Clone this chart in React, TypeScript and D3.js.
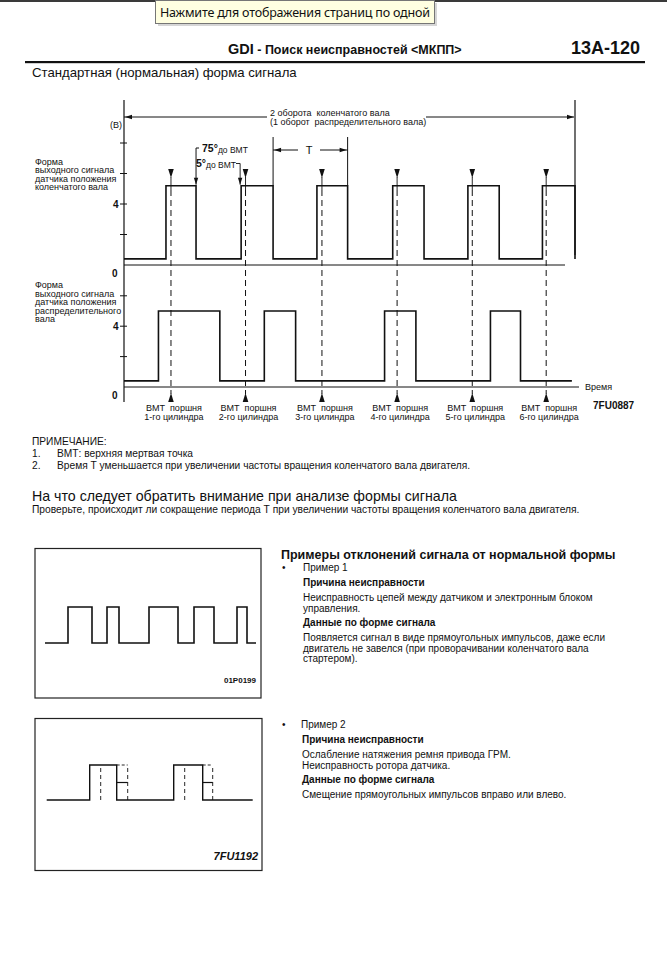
import React from "react";
import * as d3 from "d3";

// crank angle (deg) where the crank sensor signal toggles, starting low
const crankEdges = [67, 115, 187, 238, 308, 357, 429, 479, 549, 599, 668, 720];
// cam sensor signal toggles, starting low
const camEdges = [55, 153, 224, 274, 416, 466, 585, 633];
const camEnd = 715;
// TDC of each cylinder (deg)
const tdcAngles = [75, 194, 316, 436, 556, 674];
const cylinderLabels = ["1-го цилиндра", "2-го цилиндра", "3-го цилиндра", "4-го цилиндра", "5-го цилиндра", "6-го цилиндра"];
const crankLevels = [0.4, 5.2];
const camLevels = [0.4, 5.0];
const topTicks = [2, 4, 6, 8];
const bottomTicks = [2, 4, 6];

// example waveforms (time units)
const ex1Edges = [23, 47, 62, 74, 104, 133, 149, 169, 192, 202];
const ex1End = 211;
const ex2Edges = [43, 70, 127, 156];
const ex2Shifted = [54, 81, 138, 166];
const ex2End = 206;

const FONT = "'Liberation Sans', Arial, sans-serif";

const steps = (edges: number[], levels: number[], end: number) => {
  const pts: [number, number][] = [[0, levels[0]]];
  let s = 0;
  edges.forEach((e) => {
    s = 1 - s;
    pts.push([e, levels[s]]);
  });
  if (edges[edges.length - 1] < end) pts.push([end, levels[s]]);
  return pts;
};

const App = () => {
  // main diagram scales
  const x = d3.scaleLinear().domain([0, 720]).range([124, 575]);
  const yTop = d3.scaleLinear().domain([0, 4]).range([265, 204]);
  const yBot = d3.scaleLinear().domain([0, 4]).range([387, 326.2]);

  const lineTop = d3.line<[number, number]>().x((d) => x(d[0])).y((d) => yTop(d[1])).curve(d3.curveStepAfter);
  const lineBot = d3.line<[number, number]>().x((d) => x(d[0])).y((d) => yBot(d[1])).curve(d3.curveStepAfter);

  // example 1
  const x1 = d3.scaleLinear().domain([0, ex1End]).range([45, 256]);
  const y1 = d3.scaleLinear().domain([0, 1]).range([643, 607]);
  const line1 = d3.line<[number, number]>().x((d) => x1(d[0])).y((d) => y1(d[1])).curve(d3.curveStepAfter);

  // example 2
  const x2 = d3.scaleLinear().domain([0, ex2End]).range([46.7, 252.7]);
  const y2 = d3.scaleLinear().domain([0, 1]).range([800, 765]);
  const line2 = d3.line<[number, number]>().x((d) => x2(d[0])).y((d) => y2(d[1])).curve(d3.curveStepAfter);

  const arrowL = (ax: number, ay: number) => `M${ax},${ay}L${ax + 7},${ay - 2.2}L${ax + 7},${ay + 2.2}Z`;
  const arrowR = (ax: number, ay: number) => `M${ax},${ay}L${ax - 7},${ay - 2.2}L${ax - 7},${ay + 2.2}Z`;
  const arrowD = (ax: number, ay: number) => `M${ax},${ay}L${ax - 2.2},${ay - 7}L${ax + 2.2},${ay - 7}Z`;

  const txt = { fontFamily: FONT, fill: "#111" } as const;
  const pre = { whiteSpace: "pre" } as const;

  return (
    <svg width={667} height={955} style={{ position: "absolute", left: 0, top: 0, background: "#fff" }}>
      {/* top strip and tooltip */}
      <rect x={0} y={0} width={667} height={2} fill="#3a3a3a" />
      <rect x={158} y={3} width={279} height={23} fill="#bbb" opacity={0.6} />
      <rect x={155.5} y={0.5} width={279} height={23} fill="#ffffe1" stroke="#767676" />
      <text x={160} y={17} fontFamily="'Noto Sans', 'Open Sans', sans-serif" fontSize={12.5} fill="#111" textLength={270}>
        Нажмите для отображения страниц по одной
      </text>

      {/* page header */}
      <text x={228} y={54} {...txt} fontWeight="bold" fontSize={12.5}>
        <tspan fontSize={14.5}>GDI</tspan> - Поиск неисправностей &lt;МКПП&gt;
      </text>
      <text x={640} y={54} {...txt} fontWeight="bold" fontSize={18} textAnchor="end">13A-120</text>
      <rect x={25} y={61} width={620} height={2.2} fill="#111" />
      <text x={32} y={77} {...txt} fontSize={13.2}>Стандартная (нормальная) форма сигнала</text>

      {/* main diagram */}
      <g fontFamily={FONT} fill="#111">
        {/* y axis */}
        <line x1={124} x2={124} y1={100} y2={402} stroke="#111" strokeWidth={1.2} />
        {topTicks.map((t) => (
          <line key={"tt" + t} x1={120} x2={127} y1={yTop(t)} y2={yTop(t)} stroke="#111" />
        ))}
        {bottomTicks.map((t) => (
          <line key={"bt" + t} x1={120} x2={127} y1={yBot(t)} y2={yBot(t)} stroke="#111" />
        ))}
        <text x={110} y={128} fontSize={9}>(B)</text>
        <text x={113} y={yTop(4) + 3.5} fontSize={10} fontWeight="bold">4</text>
        <text x={112} y={yTop(0) + 12} fontSize={10} fontWeight="bold">0</text>
        <text x={113} y={yBot(4) + 3.5} fontSize={10} fontWeight="bold">4</text>
        <text x={112} y={yBot(0) + 12} fontSize={10} fontWeight="bold">0</text>

        {/* zero lines */}
        <line x1={124} x2={565} y1={yTop(0)} y2={yTop(0)} stroke="#111" strokeWidth={1} />
        <line x1={124} x2={579} y1={yBot(0)} y2={yBot(0)} stroke="#111" strokeWidth={1} />
        <text x={585} y={yBot(0) + 3} fontSize={9}>Время</text>

        {/* left captions */}
        <text x={35} y={165} fontSize={9}>
          {["Форма", "выходного сигнала", "датчика положения", "коленчатого вала"].map((s, i) => (
            <tspan key={s} x={35} dy={i === 0 ? 0 : 8.3}>{s}</tspan>
          ))}
        </text>
        <text x={35} y={288} fontSize={9}>
          {["Форма", "выходного сигнала", "датчика положения", "распределительного", "вала"].map((s, i) => (
            <tspan key={s} x={35} dy={i === 0 ? 0 : 8.5}>{s}</tspan>
          ))}
        </text>

        {/* 2 revolution span */}
        <line x1={575} x2={575} y1={100} y2={255} stroke="#111" strokeWidth={1.2} />
        <line x1={124} x2={267} y1={117} y2={117} stroke="#111" />
        <line x1={426} x2={574} y1={117} y2={117} stroke="#111" />
        <path d={arrowL(125, 117)} />
        <path d={arrowR(574, 117)} />
        <text x={270} y={116} fontSize={9} style={pre}>2 оборота  коленчатого вала</text>
        <text x={270} y={125} fontSize={9} style={pre}>(1 оборот  распределительного вала)</text>

        {/* T span */}
        <line x1={x(238)} x2={x(238)} y1={137} y2={yTop(crankLevels[1])} stroke="#111" />
        <line x1={x(357)} x2={x(357)} y1={137} y2={yTop(crankLevels[1])} stroke="#111" />
        <line x1={x(238)} x2={298} y1={150} y2={150} stroke="#111" />
        <line x1={320} x2={x(357)} y1={150} y2={150} stroke="#111" />
        <path d={arrowL(x(238) + 1, 150)} />
        <path d={arrowR(x(357) - 1, 150)} />
        <text x={309} y={154} fontSize={11} textAnchor="middle">T</text>

        {/* 75° and 5° BTDC marks */}
        <line x1={x(115)} x2={x(115)} y1={148} y2={yTop(crankLevels[1]) - 1} stroke="#111" />
        <line x1={x(115)} x2={x(115) + 3} y1={148} y2={148} stroke="#111" />
        <path d={arrowD(x(115), yTop(crankLevels[1]) - 1)} />
        <text x={202} y={152} fontSize={10.5} fontWeight="bold">75°<tspan fontSize={8.5} fontWeight="normal" dy={1}>до ВМТ</tspan></text>
        <text x={196} y={167} fontSize={10.5} fontWeight="bold">5°<tspan fontSize={8.5} fontWeight="normal" dy={0.5}>до ВМТ</tspan></text>
        <path d={`M236,163.5L${x(187) - 1},163.5L${x(187) - 1},${yTop(crankLevels[1]) - 1}`} fill="none" stroke="#111" strokeWidth={0.9} />
        <path d={arrowD(x(187) - 1, yTop(crankLevels[1]) - 1)} />

        {/* TDC markers */}
        {tdcAngles.map((a, i) => (
          <g key={"tdc" + i}>
            <path d={`M${x(a) - 2.8},169L${x(a) + 2.8},169L${x(a)},178Z`} />
            <line x1={x(a)} x2={x(a)} y1={177} y2={190} stroke="#111" strokeWidth={0.9} />
            <line x1={x(a)} x2={x(a)} y1={190} y2={394} stroke="#111" strokeWidth={1} strokeDasharray="6,4" />
            <path d={`M${x(a)},393L${x(a) - 2.8},402L${x(a) + 2.8},402Z`} />
            <text x={x(a) + 3} y={411} fontSize={9} textAnchor="middle" style={pre}>ВМТ  поршня</text>
            <text x={x(a) + 3} y={420} fontSize={9} textAnchor="middle">{cylinderLabels[i]}</text>
          </g>
        ))}

        {/* signals */}
        <path d={lineTop(steps(crankEdges, crankLevels, 720)) || ""} fill="none" stroke="#111" strokeWidth={1.6} />
        <path d={lineBot(steps(camEdges, camLevels, camEnd)) || ""} fill="none" stroke="#111" strokeWidth={1.6} />

        <text x={593} y={409} fontSize={10} fontWeight="bold">7FU0887</text>
      </g>

      {/* notes */}
      <g {...txt} fontSize={10.2}>
        <text x={32} y={445}>ПРИМЕЧАНИЕ:</text>
        <text x={32} y={457}>1.</text>
        <text x={57} y={457}>ВМТ: верхняя мертвая точка</text>
        <text x={32} y={469}>2.</text>
        <text x={57} y={469}>Время Т уменьшается при увеличении частоты вращения коленчатого вала двигателя.</text>
        <text x={32} y={501} fontSize={14.2}>На что следует обратить внимание при анализе формы сигнала</text>
        <text x={32} y={513} fontSize={10.25}>Проверьте, происходит ли сокращение периода Т при увеличении частоты вращения коленчатого вала двигателя.</text>
      </g>

      {/* example 1 */}
      <rect x={35} y={548.5} width={226} height={149.5} fill="none" stroke="#222" strokeWidth={1.2} />
      <path d={line1(steps(ex1Edges, [0, 1], ex1End)) || ""} fill="none" stroke="#111" strokeWidth={1.6} />
      <text x={256} y={683} {...txt} fontSize={8} fontWeight="bold" textAnchor="end">01P0199</text>

      {/* example 2 */}
      <rect x={35} y={718.5} width={227} height={152} fill="none" stroke="#222" strokeWidth={1.2} />
      <path d={line2(steps(ex2Edges, [0, 1], ex2End)) || ""} fill="none" stroke="#111" strokeWidth={1.4} />
      {[0, 2].map((k) => (
        <g key={"sh" + k} stroke="#111" fill="none">
          <line x1={x2(ex2Shifted[k])} x2={x2(ex2Shifted[k])} y1={y2(0)} y2={y2(1)} strokeDasharray="4,3" strokeWidth={0.9} />
          <line x1={x2(ex2Shifted[k + 1])} x2={x2(ex2Shifted[k + 1])} y1={y2(0)} y2={y2(1)} strokeDasharray="4,3" strokeWidth={0.9} />
          <line x1={x2(ex2Edges[k + 1])} x2={x2(ex2Shifted[k + 1])} y1={y2(1)} y2={y2(1)} strokeDasharray="3,2" strokeWidth={0.9} />
          <line x1={x2(ex2Edges[k + 1])} x2={x2(ex2Shifted[k + 1])} y1={y2(0.5)} y2={y2(0.5)} strokeWidth={1.2} />
        </g>
      ))}
      <text x={258} y={860} {...txt} fontSize={11} fontWeight="bold" fontStyle="italic" textAnchor="end">7FU1192</text>

      {/* example texts */}
      <g {...txt} fontSize={10}>
        <text x={281} y={559} fontSize={12.5} fontWeight="bold">Примеры отклонений сигнала от нормальной формы</text>
        <text x={282} y={571}>•</text>
        <text x={303} y={571}>Пример 1</text>
        <text x={303} y={586} fontWeight="bold">Причина неисправности</text>
        <text x={303} y={601}>Неисправность цепей между датчиком и электронным блоком</text>
        <text x={303} y={612}>управления.</text>
        <text x={303} y={626} fontWeight="bold">Данные по форме сигнала</text>
        <text x={303} y={641}>Появляется сигнал в виде прямоугольных импульсов, даже если</text>
        <text x={303} y={651.5}>двигатель не завелся (при проворачивании коленчатого вала</text>
        <text x={303} y={662}>стартером).</text>

        <text x={282} y={728}>•</text>
        <text x={301} y={728}>Пример 2</text>
        <text x={302} y={743} fontWeight="bold">Причина неисправности</text>
        <text x={302} y={758}>Ослабление натяжения ремня привода ГРМ.</text>
        <text x={302} y={768.5}>Неисправность ротора датчика.</text>
        <text x={302} y={783} fontWeight="bold">Данные по форме сигнала</text>
        <text x={302} y={797.5}>Смещение прямоугольных импульсов вправо или влево.</text>
      </g>
    </svg>
  );
};

export default App;
